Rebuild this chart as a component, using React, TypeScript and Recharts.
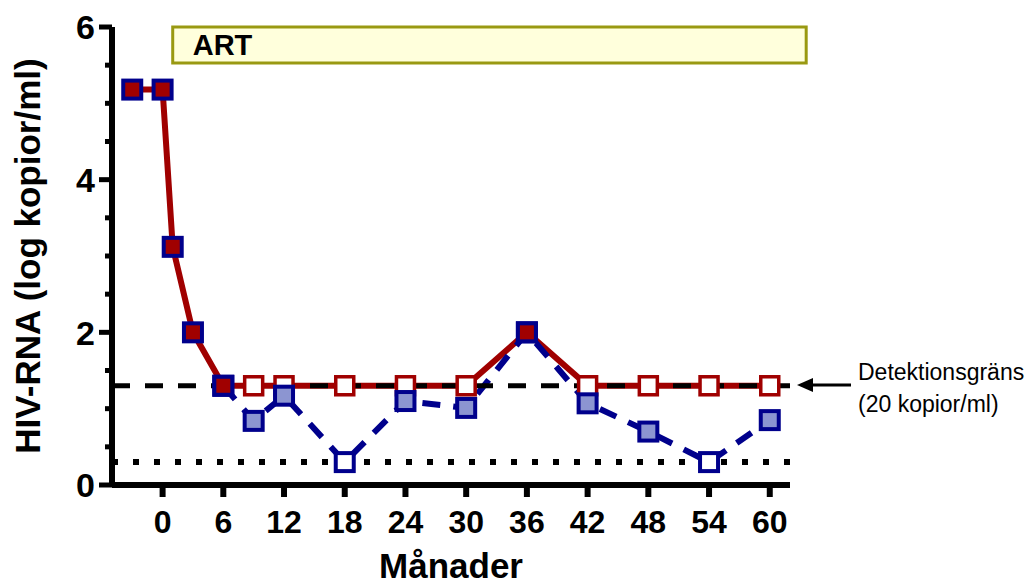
import { ComposedChart, Line, XAxis, YAxis, ReferenceLine, ReferenceArea, Label } from "recharts";

// months since start, log10 HIV-RNA
const months = [-3, 0, 1, 3, 6, 9, 12, 18, 24, 30, 36, 42, 48, 54, 60];
const redLog = [5.18, 5.18, 3.12, 2.0, 1.3, 1.3, 1.3, 1.3, 1.3, 1.3, 2.0, 1.3, 1.3, 1.3, 1.3];
const blueLog = [null, null, null, null, 1.3, 0.84, 1.17, 0.3, 1.1, 1.01, 2.0, 1.07, 0.7, 0.3, 0.85];
// values under the detection limit are drawn as open squares
const redBelow = [false, false, false, false, false, true, true, true, true, true, false, true, true, true, true];
const blueBelow = [false, false, false, false, false, false, false, true, false, false, false, false, false, true, false];

const xTicks = [0, 6, 12, 18, 24, 30, 36, 42, 48, 54, 60];
const yTicks = [0, 0.5, 1, 1.5, 2, 2.5, 3, 3.5, 4, 4.5, 5, 5.5, 6];
const detectionLimit = 1.3;
const lowerLimit = 0.3;

const data = months.map((m, i) => ({
  month: m,
  red: redLog[i],
  blue: blueLog[i],
  redOpen: redBelow[i],
  blueOpen: blueBelow[i],
}));

const FONT = "'Liberation Sans', Arial, sans-serif";
const RED = "#a00000";
const NAVY = "#00008c";
const LIGHT = "#8c95d1";

// open squares sit below the blue series, filled ones on top
const redDot = (wantOpen: boolean) => (props: any) => {
  const { cx, cy, payload, index } = props;
  const key = `r${wantOpen ? "o" : "f"}-${index}`;
  if (cx == null || cy == null || payload.red == null || payload.redOpen !== wantOpen) return <g key={key} />;
  return (
    <rect
      key={key}
      x={cx - 9}
      y={cy - 9}
      width={18}
      height={18}
      fill={wantOpen ? "#fff" : RED}
      stroke={wantOpen ? RED : NAVY}
      strokeWidth={wantOpen ? 3.5 : 4}
    />
  );
};

const BlueDot = (props: any) => {
  const { cx, cy, payload, index } = props;
  if (cx == null || cy == null || payload.blue == null) return <g key={`b-${index}`} />;
  const open = payload.blueOpen;
  return (
    <rect
      key={`b-${index}`}
      x={cx - 9}
      y={cy - 9}
      width={18}
      height={18}
      fill={open ? "#fff" : LIGHT}
      stroke={NAVY}
      strokeWidth={4}
    />
  );
};

const YTick = (props: any) => {
  const { x, y, payload } = props;
  const major = payload.value % 2 === 0;
  return (
    <g>
      <line x1={x} x2={x - (major ? 13 : 7)} y1={y} y2={y} stroke="#000" strokeWidth={5} />
      {major && (
        <text x={x - 17} y={y} dy="0.36em" textAnchor="end" fontFamily={FONT} fontWeight="bold" fontSize={34} fill="#000">
          {payload.value}
        </text>
      )}
    </g>
  );
};

export default function App() {
  return (
    <div style={{ position: "absolute", left: 0, top: 0, width: 1033, height: 585, background: "#fff" }}>
      <ComposedChart width={1033} height={585} data={data} margin={{ top: 27, right: 243, bottom: 0, left: 0 }}>
        <XAxis
          dataKey="month"
          type="number"
          domain={[-5, 62]}
          ticks={xTicks}
          axisLine={{ stroke: "#000", strokeWidth: 6 }}
          tickLine={{ stroke: "#000", strokeWidth: 6 }}
          tickSize={12}
          tickMargin={13}
          height={100}
          tick={{ fontFamily: FONT, fontWeight: "bold", fontSize: 32, fill: "#000" }}
        >
          <Label
            content={({ viewBox }: any) => (
              <text
                x={viewBox.x + viewBox.width / 2}
                y={578}
                textAnchor="middle"
                fontFamily={FONT}
                fontWeight="bold"
                fontSize={35}
                fill="#000"
              >
                Månader
              </text>
            )}
          />
        </XAxis>
        <YAxis
          type="number"
          domain={[0, 6]}
          ticks={yTicks}
          interval={0}
          width={112}
          axisLine={{ stroke: "#000", strokeWidth: 6 }}
          tickLine={false}
          tickSize={0}
          tickMargin={0}
          tick={<YTick />}
        >
          <Label
            content={({ viewBox }: any) => {
              const cy = viewBox.y + viewBox.height / 2;
              return (
                <text
                  x={40}
                  y={cy}
                  transform={`rotate(-90 40 ${cy})`}
                  textAnchor="middle"
                  fontFamily={FONT}
                  fontWeight="bold"
                  fontSize={35}
                  fill="#000"
                >
                  HIV-RNA (log kopior/ml)
                </text>
              );
            }}
          />
        </YAxis>
        <ReferenceArea
          x1={1}
          x2={63.6}
          y1={5.53}
          y2={6}
          ifOverflow="visible"
          fill="#ffffdc"
          fillOpacity={1}
          stroke="#999911"
          strokeWidth={3}
          label={{
            value: "ART",
            position: "insideLeft",
            offset: 20,
            fontFamily: FONT,
            fontWeight: "bold",
            fontSize: 29,
            fill: "#000",
          }}
        />
        <Line
          dataKey="red"
          type="linear"
          stroke={RED}
          strokeWidth={6}
          dot={redDot(true)}
          activeDot={false}
          isAnimationActive={false}
        />
        <Line
          dataKey="blue"
          type="linear"
          stroke={NAVY}
          strokeWidth={6}
          strokeDasharray="18 13"
          dot={BlueDot}
          activeDot={false}
          isAnimationActive={false}
        />
        <Line
          dataKey="red"
          type="linear"
          stroke="none"
          dot={redDot(false)}
          activeDot={false}
          legendType="none"
          isAnimationActive={false}
        />
        <ReferenceLine y={detectionLimit} stroke="#000" strokeWidth={5} strokeDasharray="18 15" />
        <ReferenceLine y={lowerLimit} stroke="#000" strokeWidth={6} strokeDasharray="6 15" />
      </ComposedChart>
      <svg width={1033} height={585} style={{ position: "absolute", left: 0, top: 0, pointerEvents: "none" }}>
        <line x1={810} x2={851} y1={385} y2={385} stroke="#000" strokeWidth={3} />
        <polygon points="797,385 813,378 813,392" fill="#000" />
        <text x={858} y={380} fontFamily={FONT} fontSize={23} fill="#000">
          Detektionsgräns
        </text>
        <text x={858} y={412} fontFamily={FONT} fontSize={23} fill="#000">
          (20 kopior/ml)
        </text>
      </svg>
    </div>
  );
}
